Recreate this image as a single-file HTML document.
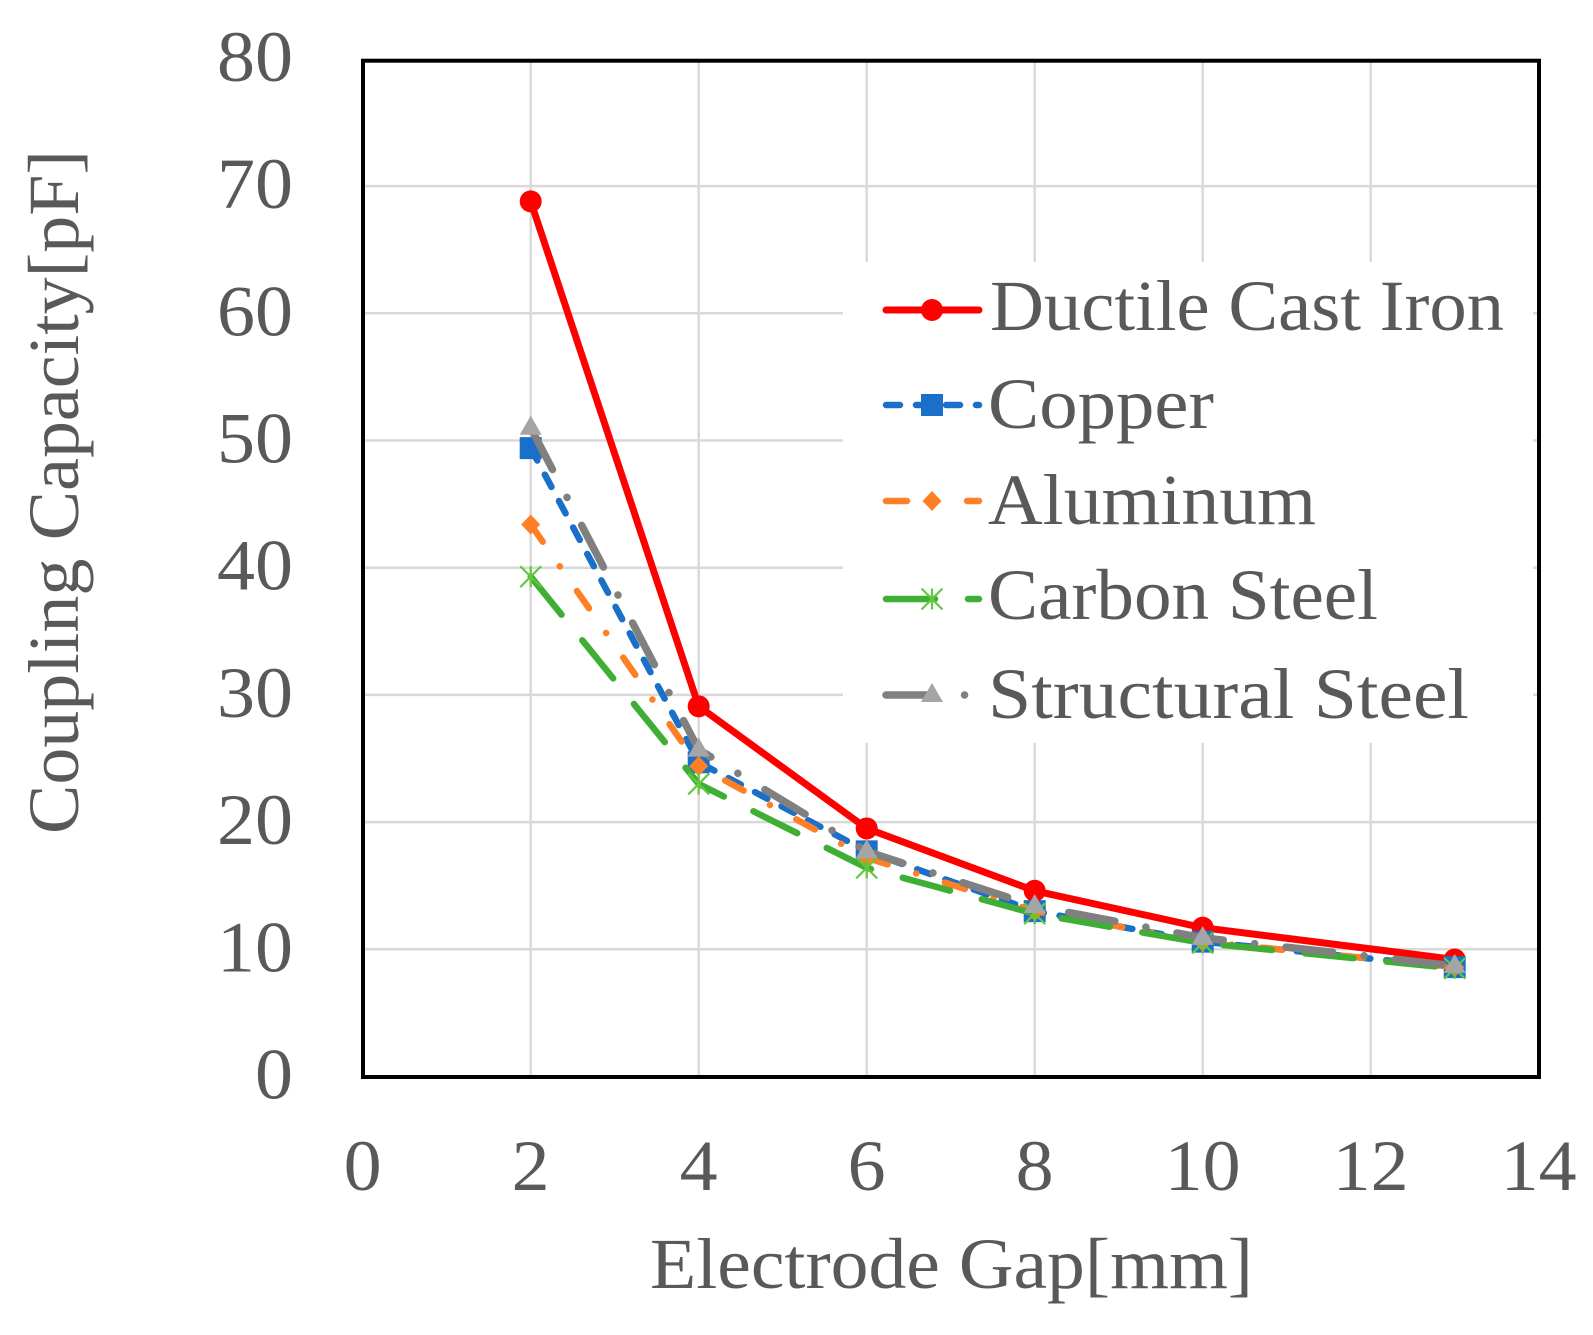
<!DOCTYPE html>
<html lang="en">
<head>
<meta charset="utf-8">
<title>Coupling Capacity vs Electrode Gap</title>
<style>
  html, body { margin: 0; padding: 0; background: #ffffff; }
  body { width: 1593px; height: 1335px; overflow: hidden; }
  svg { display: block; }
  text { font-family: "Liberation Serif", serif; fill: #595959; }
</style>
</head>
<body>
<svg id="chart" xmlns="http://www.w3.org/2000/svg" width="1593" height="1335" viewBox="0 0 1593 1335">
  <rect x="0" y="0" width="1593" height="1335" fill="#ffffff"></rect>
  <g id="grid"></g>
  <rect id="legendBg" x="843" y="262" width="690" height="481" fill="#ffffff"></rect>
  <rect x="363" y="60.7" width="1176" height="1016.3" fill="none" stroke="#000000" stroke-width="4"></rect>
  <g id="series"></g>
  <g id="ticks"></g>
  <text x="650" y="1288" font-size="72" textLength="603" lengthAdjust="spacingAndGlyphs">Electrode Gap[mm]</text>
  <text transform="translate(78,834) rotate(-90)" x="0" y="0" font-size="72" textLength="684" lengthAdjust="spacingAndGlyphs">Coupling Capacity[pF]</text>
  <g id="legend"></g>
</svg>
<script>
const xValues = [2, 4, 6, 8, 10, 13];
const ductileCastIron = [68.8, 29.1, 19.5, 14.6, 11.7, 9.2];
const copper = [49.4, 24.7, 17.7, 13.0, 10.6, 8.6];
const aluminum = [43.4, 24.4, 17.2, 13.0, 10.6, 8.6];
const carbonSteel = [39.3, 23.0, 16.4, 12.8, 10.5, 8.5];
const structuralSteel = [51.0, 25.7, 17.7, 13.4, 10.9, 8.7];
const xTicks = [0, 2, 4, 6, 8, 10, 12, 14];
const yTicks = [0, 10, 20, 30, 40, 50, 60, 70, 80];
const seriesNames = ["Ductile Cast Iron", "Copper", "Aluminum", "Carbon Steel", "Structural Steel"];
const seriesValues = [ductileCastIron, copper, aluminum, carbonSteel, structuralSteel];

const NS = "http://www.w3.org/2000/svg";
const X0 = 362.7, XU = 84, Y0 = 1076.5, YU = 12.72;
function sx(v) { return X0 + v * XU; }
function sy(v) { return Y0 - v * YU; }

const styles = [
  { key: "ductile-cast-iron", color: "#ff0000", width: 7, dash: "", marker: "circle", markerColor: "#ff0000" },
  { key: "copper", color: "#1a70c8", width: 6.5, dash: "14 16", marker: "square", markerColor: "#1a70c8" },
  { key: "aluminum", color: "#ff7f27", width: 6.5, dash: "21 30 0.1 30", marker: "diamond", markerColor: "#ff7f27" },
  { key: "carbon-steel", color: "#3fae34", width: 6.5, dash: "49 33", marker: "star", markerColor: "#62c83c" },
  { key: "structural-steel", color: "#808080", width: 7.5, dash: "47 31.5 0.1 31.5", marker: "triangle", markerColor: "#a5a5a5" }
];

function make(tag, attrs, parent) {
  const el = document.createElementNS(NS, tag);
  for (const k in attrs) el.setAttribute(k, attrs[k]);
  parent.appendChild(el);
  return el;
}

function drawMarker(parent, kind, color, cx, cy, name) {
  const g = make("g", {}, parent);
  
  
  if (kind === "circle") {
    make("circle", { cx: cx, cy: cy, r: 11, fill: color }, g);
  } else if (kind === "square") {
    make("rect", { x: cx - 11, y: cy - 11, width: 22, height: 22, fill: color }, g);
  } else if (kind === "diamond") {
    make("polygon", { points: `${cx},${cy - 10} ${cx + 9.5},${cy} ${cx},${cy + 10} ${cx - 9.5},${cy}`, fill: color }, g);
  } else if (kind === "triangle") {
    make("polygon", { points: `${cx},${cy - 12} ${cx + 11},${cy + 7} ${cx - 11},${cy + 7}`, fill: color }, g);
  } else if (kind === "star") {
    const s = 10.5;
    const d = `M${cx - s} ${cy - s}L${cx + s} ${cy + s}M${cx + s} ${cy - s}L${cx - s} ${cy + s}M${cx} ${cy - s}L${cx} ${cy + s}`;
    make("path", { d: d, stroke: color, "stroke-width": 2.2, fill: "none" }, g);
  }
  return g;
}

/* gridlines */
const gridG = document.getElementById("grid");
xTicks.slice(1, -1).forEach(function (t) {
  const line = make("line", { x1: sx(t), x2: sx(t), y1: 60, y2: 1077, stroke: "#d9d9d9", "stroke-width": 2.5 }, gridG);
  
  
});
yTicks.slice(1, -1).forEach(function (t) {
  const line = make("line", { x1: 363, x2: 1539, y1: sy(t), y2: sy(t), stroke: "#d9d9d9", "stroke-width": 2.5 }, gridG);
  
  
});

/* tick labels */
const tickG = document.getElementById("ticks");
xTicks.forEach(function (t) {
  const s = String(t);
  const label = make("text", { x: sx(t), y: 1190, "font-size": 72, "text-anchor": "middle", textLength: s.length * 38, lengthAdjust: "spacingAndGlyphs" }, tickG);
  
  
  label.textContent = s;
});
yTicks.forEach(function (t) {
  const s = String(t);
  const label = make("text", { x: 293, y: sy(t) + 22, "font-size": 72, "text-anchor": "end", textLength: s.length * 38, lengthAdjust: "spacingAndGlyphs" }, tickG);
  
  
  label.textContent = s;
});

/* series */
const seriesG = document.getElementById("series");
seriesValues.forEach(function (values, i) {
  const st = styles[i];
  const g = make("g", {}, seriesG);
  
  
  const pts = values.map(function (v, j) { return sx(xValues[j]) + "," + sy(v); }).join(" ");
  const line = make("polyline", { points: pts, fill: "none", stroke: st.color, "stroke-width": st.width, "stroke-linecap": "round", "stroke-linejoin": "round" }, g);
  if (st.dash) line.setAttribute("stroke-dasharray", st.dash);
  
  
  values.forEach(function (v, j) {
    drawMarker(g, st.marker, st.markerColor, sx(xValues[j]), sy(v), 'point-' + st.key);
  });
});

/* legend */
const legendG = document.getElementById("legend");
const legendLineY = [310, 405, 501, 599, 695];
const legendBase = [330, 428, 524, 619, 718];
const legendX = [990, 988, 988, 988, 988];
const legendWidths = [514, 226, 328, 390, 481];
seriesNames.forEach(function (name, i) {
  const st = styles[i];
  const g = make("g", {}, legendG);
  
  
  const swatch = make("line", { x1: 886, x2: 979, y1: legendLineY[i], y2: legendLineY[i], stroke: st.color, "stroke-width": st.width, "stroke-linecap": "round" }, g);
  if (st.dash) swatch.setAttribute("stroke-dasharray", st.dash);
  
  
  drawMarker(g, st.marker, st.markerColor, 932, legendLineY[i], 'legend-marker-' + st.key);
  const label = make("text", { x: legendX[i], y: legendBase[i], "font-size": 72, textLength: legendWidths[i], lengthAdjust: "spacingAndGlyphs" }, g);
  
  
  label.textContent = name;
});
</script>
</body>
</html>
